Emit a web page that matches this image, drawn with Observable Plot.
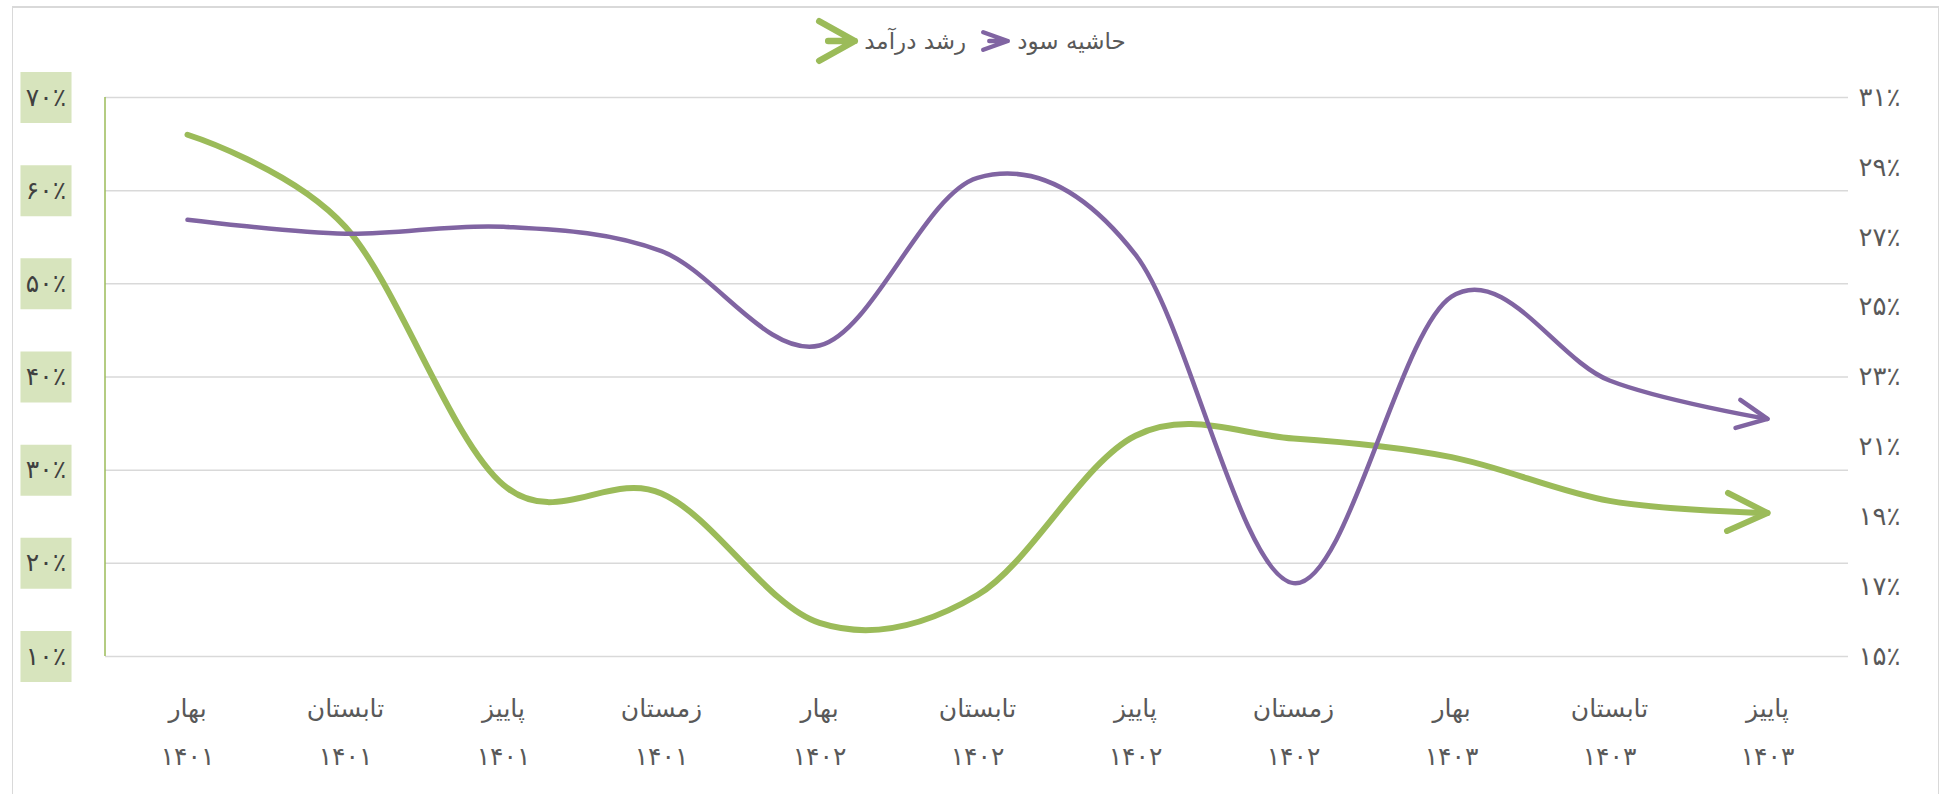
<!DOCTYPE html>
<html>
<head>
<meta charset="utf-8">
<script src="https://cdn.jsdelivr.net/npm/d3@7"></script>
<script src="https://cdn.jsdelivr.net/npm/@observablehq/plot@0.6"></script>
<style>
  html, body { margin: 0; padding: 0; background: #fff; overflow: hidden; }
  #wrap { position: relative; width: 1941px; height: 794px; font-family: "DejaVu Sans", sans-serif; color: #595959; }
  #frame { position: absolute; left: 12px; top: 6px; width: 1927px; height: 820px; border: 1.5px solid #d9d9d9; border-top-width: 2.5px; box-sizing: border-box; pointer-events: none; }
  #legend { height: 70px; box-sizing: border-box; padding-top: 12px; display: flex; justify-content: center; align-items: center; font-size: 23px; color: #595959; }
  #legend span { white-space: nowrap; }
  #chart svg { display: block; }
</style>
</head>
<body>
<div id="wrap">
  <div id="legend"></div>
  <div id="chart"></div>
  <div id="frame"></div>
</div>
<script>
// ---- data ----
const seasons = ["بهار", "تابستان", "پاییز", "زمستان", "بهار", "تابستان", "پاییز", "زمستان", "بهار", "تابستان", "پاییز"];
const years = ["۱۴۰۱", "۱۴۰۱", "۱۴۰۱", "۱۴۰۱", "۱۴۰۲", "۱۴۰۲", "۱۴۰۲", "۱۴۰۲", "۱۴۰۳", "۱۴۰۳", "۱۴۰۳"];
const revenueGrowth = [66.0, 56.1, 28.4, 27.5, 13.6, 16.6, 33.7, 33.4, 31.4, 26.7, 25.4];   // رشد درآمد (left axis, %)
const profitMargin = [27.5, 27.1, 27.3, 26.6, 23.9, 28.7, 26.5, 17.1, 25.3, 22.9, 21.8];    // حاشیه سود (right axis, %)
const leftTicks = [10, 20, 30, 40, 50, 60, 70];
const rightTicks = [15, 17, 19, 21, 23, 25, 27, 29, 31];
const seriesNames = ["رشد درآمد", "حاشیه سود"];
const seriesColors = ["#9bbb59", "#8064a2"];

// ---- helpers ----
const fa = v => String(v).replace(/\d/g, d => "۰۱۲۳۴۵۶۷۸۹"[+d]);
const L0 = leftTicks[0], L1 = leftTicks[leftTicks.length - 1];
const R0 = rightTicks[0], R1 = rightTicks[rightTicks.length - 1];
const toLeft = r => L0 + (r - R0) * (L1 - L0) / (R1 - R0);
const cats = seasons.map((s, i) => s + " " + years[i]);
const rows = cats.map((c, i) => ({cat: c, season: seasons[i], year: years[i], rev: revenueGrowth[i], pm: profitMargin[i]}));

// ---- legend ----
function icon(color, w, h, sw) {
  const ns = "http://www.w3.org/2000/svg";
  const s = document.createElementNS(ns, "svg");
  s.setAttribute("width", w); s.setAttribute("height", h);
  s.style.display = "block";
  const p = document.createElementNS(ns, "path");
  const m = sw / 2 + 1;
  p.setAttribute("d", `M${m},${m}L${w - m},${h / 2}L${m},${h - m}M${w * 0.3},${h / 2}L${w - m},${h / 2}`);
  p.setAttribute("fill", "none"); p.setAttribute("stroke", color); p.setAttribute("stroke-width", sw);
  p.setAttribute("stroke-linecap", "round"); p.setAttribute("stroke-linejoin", "round");
  s.appendChild(p);
  return s;
}
const legend = document.getElementById("legend");
const items = [
  {el: icon(seriesColors[0], 44, 48, 6.5), mr: 5},
  {text: seriesNames[0], mr: 14},
  {el: icon(seriesColors[1], 31, 24, 4.5), mr: 6},
  {text: seriesNames[1], mr: 0}
];
items.forEach(it => {
  let node;
  if (it.el) node = it.el; else { node = document.createElement("span"); node.textContent = it.text; }
  node.style.marginRight = it.mr + "px";
  legend.appendChild(node);
});

// ---- chart ----
const leftAxisLine = (index, scales, values, dims) => {
  const ns = "http://www.w3.org/2000/svg";
  const l = document.createElementNS(ns, "line");
  l.setAttribute("x1", dims.marginLeft); l.setAttribute("x2", dims.marginLeft);
  l.setAttribute("y1", dims.marginTop); l.setAttribute("y2", dims.height - dims.marginBottom);
  l.setAttribute("stroke", seriesColors[0]); l.setAttribute("stroke-width", 1.5);
  return l;
};

const chart = Plot.plot({
  width: 1941,
  height: 724,
  marginTop: 27,
  marginBottom: 138,
  marginLeft: 105,
  marginRight: 93,
  x: {type: "point", domain: cats, padding: 0.5, axis: null},
  y: {domain: [L0, L1], axis: null},
  style: {fontFamily: "DejaVu Sans, sans-serif", color: "#595959", background: "transparent", overflow: "visible"},
  marks: [
    Plot.ruleY(leftTicks, {y: d => d, stroke: "#d9d9d9", strokeWidth: 1.5}),
    leftAxisLine,
    Plot.dot(leftTicks, {y: d => d, frameAnchor: "left", dx: -59.5, symbol: "square", r: 28.8, fill: "#d7e4bd", stroke: null}),
    Plot.text(leftTicks, {y: d => d, frameAnchor: "left", dx: -59.5, textAnchor: "middle", text: d => fa(d) + "٪", fontSize: 25, fill: "#404040"}),
    Plot.text(rightTicks, {y: d => toLeft(d), frameAnchor: "right", dx: 10, textAnchor: "start", text: d => fa(d) + "٪", fontSize: 26, fill: "#595959"}),
    Plot.text(rows, {x: "cat", frameAnchor: "bottom", dy: 60, textAnchor: "middle", text: "season", fontSize: 25, fill: "#595959"}),
    Plot.text(rows, {x: "cat", frameAnchor: "bottom", dy: 108, textAnchor: "middle", text: "year", fontSize: 25, fill: "#595959"}),
    Plot.line(rows, {x: "cat", y: "rev", curve: "cardinal", stroke: seriesColors[0], strokeWidth: 6, strokeLinecap: "round", strokeLinejoin: "round", markerEnd: "arrow"}),
    Plot.line(rows, {x: "cat", y: d => toLeft(d.pm), curve: "cardinal", stroke: seriesColors[1], strokeWidth: 4.5, strokeLinecap: "round", strokeLinejoin: "round", markerEnd: "arrow"})
  ]
});

// enlarge the arrowheads to match the open arrow line ends
chart.querySelectorAll("marker").forEach(m => {
  m.setAttribute("viewBox", "-12 -12 24 24");
  m.setAttribute("markerWidth", 16);
  m.setAttribute("markerHeight", 16);
  m.setAttribute("overflow", "visible");
  m.setAttribute("stroke-width", 1.5);
  const p = m.querySelector("path");
  if (p) p.setAttribute("d", "M-10,-4.75L0,0L-10,4.75");
});

document.getElementById("chart").appendChild(chart);
</script>
</body>
</html>
